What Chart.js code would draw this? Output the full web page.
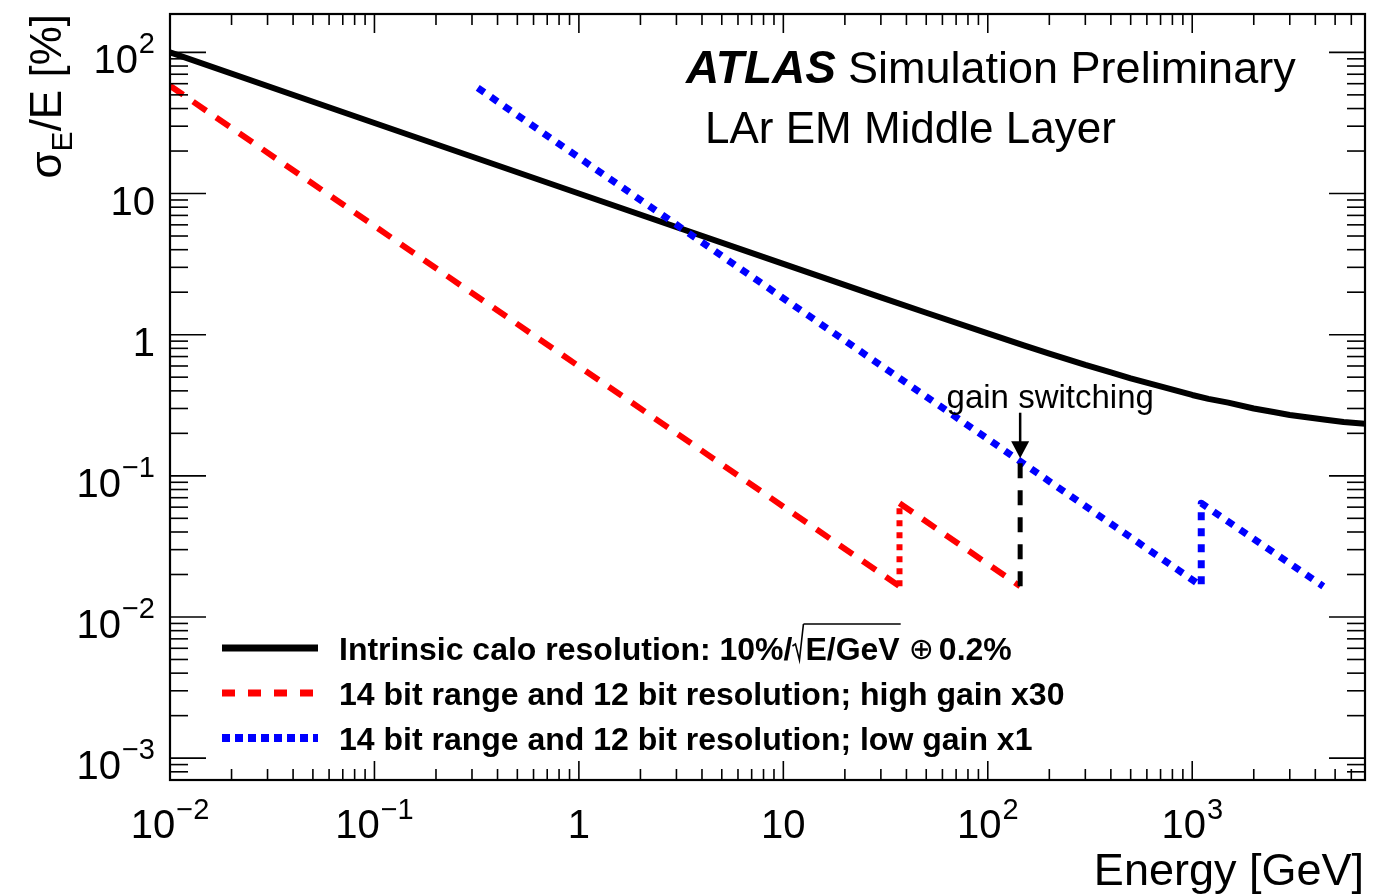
<!DOCTYPE html>
<html lang="en">
<head>
  <meta charset="UTF-8">
  <title>LAr EM Middle Layer - energy resolution</title>
  <script src="https://cdn.jsdelivr.net/npm/chart.js"></script>
  <style>
    html, body {
      margin: 0;
      padding: 0;
      background: #fff;
    }
    #box {
      width: 1389px;
      height: 895px;
      position: relative;
    }
  </style>
</head>
<body>
  <div id="box">
    <canvas id="resChart"></canvas>
  </div>

  <script>
    // values (E in GeV, sigma_E/E in %)
    const energyIntrinsic = [0.01, 0.1, 1, 10, 30, 50, 100, 150, 200, 300, 400, 500, 700, 1000, 1200, 1500, 2000, 2500, 3000, 4500, 5500, 7000];
    const sigmaIntrinsic  = [100, 31.6, 10, 3.17, 1.84, 1.43, 1.02, 0.84, 0.735, 0.61, 0.54, 0.49, 0.43, 0.374, 0.351, 0.33, 0.30, 0.283, 0.27, 0.25, 0.241, 0.234];

    const energyHigh = [0.01, 37, 37, 144];
    const sigmaHigh  = [58, 0.0165, 0.064, 0.0165];

    const energyLow = [0.32, 1107, 1107, 4375];
    const sigmaLow  = [56, 0.0166, 0.064, 0.0165];

    const switchEnergy = [144, 144];
    const switchSigma  = [0.0165, 0.126];

    const xDecades = [-2, -1, 0, 1, 2, 3];
    const yDecades = [-3, -2, -1, 0, 1, 2];

    const labelIntrinsic = "Intrinsic calo resolution: 10%/";
    const labelHigh = "14 bit range and 12 bit resolution; high gain x30";
    const labelLow = "14 bit range and 12 bit resolution; low gain x1";

    const FONT = '"Liberation Sans", Helvetica, Arial, sans-serif';

    function pts(xs, ys) {
      return xs.map((v, i) => ({ x: v, y: ys[i] }));
    }
    function isVertical(c) {
      return c.p0.parsed.x === c.p1.parsed.x;
    }

    function line(ctx, x1, y1, x2, y2) {
      ctx.beginPath();
      ctx.moveTo(x1, y1);
      ctx.lineTo(x2, y2);
      ctx.stroke();
    }

    // "10" with raised exponent, like ROOT draws it
    function powLabel(ctx, e, px, by, align, raise) {
      let main = '10', exp = '';
      if (e === 0) main = '1';
      else if (e !== 1) exp = e < 0 ? '\u2212' + (-e) : String(e);
      ctx.font = '40px ' + FONT;
      const wm = ctx.measureText(main).width;
      ctx.font = '29px ' + FONT;
      const we = exp ? ctx.measureText(exp).width + 1 : 0;
      const total = wm + we;
      let x0 = align === 'center' ? px - total / 2 : px - total;
      ctx.textAlign = 'left';
      ctx.textBaseline = 'alphabetic';
      ctx.font = '40px ' + FONT;
      ctx.fillText(main, x0, by);
      if (exp) {
        ctx.font = '29px ' + FONT;
        ctx.fillText(exp, x0 + wm + 1, by - raise);
      }
    }

    const atlasDecor = {
      id: 'atlasDecor',
      afterDraw(chart) {
        const { ctx, chartArea: a, scales: { x, y } } = chart;
        ctx.save();
        ctx.strokeStyle = '#000';
        ctx.fillStyle = '#000';

        // ticks inside the frame, on all four sides
        ctx.lineWidth = 1.6;
        for (let e = -4; e <= 2; e++) {
          for (let k = 1; k <= 9; k++) {
            const v = k * Math.pow(10, e);
            if (v < y.min * 0.999 || v > y.max) continue;
            const py = y.getPixelForValue(v);
            const len = k === 1 ? 36 : 18;
            line(ctx, a.left, py, a.left + len, py);
            line(ctx, a.right, py, a.right - len, py);
          }
        }
        for (let e = -2; e <= 3; e++) {
          for (let k = 1; k <= 9; k++) {
            const v = k * Math.pow(10, e);
            if (v < x.min || v > x.max * 1.001) continue;
            const px = x.getPixelForValue(v);
            const len = k === 1 ? 19 : 11;
            line(ctx, px, a.bottom, px, a.bottom - len);
            line(ctx, px, a.top, px, a.top + len);
          }
        }

        // frame
        ctx.lineWidth = 2.2;
        ctx.strokeRect(a.left, a.top, a.right - a.left, a.bottom - a.top);

        // tick labels
        yDecades.forEach(e => {
          const py = y.getPixelForValue(Math.pow(10, e));
          powLabel(ctx, e, a.left - 15, py + 21, 'right', 20);
        });
        xDecades.forEach(e => {
          const px = x.getPixelForValue(Math.pow(10, e));
          powLabel(ctx, e, px, a.bottom + 58, 'center', 19);
        });

        // axis titles
        ctx.textAlign = 'right';
        ctx.textBaseline = 'alphabetic';
        ctx.font = '45px ' + FONT;
        ctx.fillText('Energy [GeV]', a.right - 1, 885);

        ctx.save();
        ctx.font = '44px ' + FONT;
        const wSig = ctx.measureText('\u03c3').width;
        const wRest = ctx.measureText('/E [%]').width;
        ctx.font = '30px ' + FONT;
        const wSub = ctx.measureText('E').width;
        const totalT = wSig + wSub + wRest;
        ctx.translate(61, a.top + totalT);
        ctx.rotate(-Math.PI / 2);
        ctx.textAlign = 'left';
        ctx.font = '44px ' + FONT;
        ctx.fillText('\u03c3', 0, 0);
        ctx.font = '30px ' + FONT;
        ctx.fillText('E', wSig, 11);
        ctx.font = '44px ' + FONT;
        ctx.fillText('/E [%]', wSig + wSub, 0);
        ctx.restore();

        // ATLAS label
        ctx.textAlign = 'left';
        ctx.font = 'italic bold 46px ' + FONT;
        ctx.fillText('ATLAS', 686, 83);
        ctx.font = '45px ' + FONT;
        ctx.fillText('Simulation Preliminary', 848, 83);
        ctx.font = '44px ' + FONT;
        ctx.fillText('LAr EM Middle Layer', 705, 143);

        // gain switching annotation
        const ax = x.getPixelForValue(switchEnergy[0]);
        const aTop = y.getPixelForValue(0.28);
        const aTip = y.getPixelForValue(0.133);
        ctx.lineWidth = 2.5;
        line(ctx, ax, aTop, ax, aTip - 14);
        ctx.beginPath();
        ctx.moveTo(ax - 9, aTip - 17);
        ctx.lineTo(ax + 9, aTip - 17);
        ctx.lineTo(ax, aTip);
        ctx.closePath();
        ctx.fill();
        ctx.font = '33px ' + FONT;
        ctx.textAlign = 'center';
        ctx.fillText('gain switching', x.getPixelForValue(202), y.getPixelForValue(0.30));

        // legend
        const ds = chart.data.datasets;
        const rows = [648, 693, 738];
        [0, 1, 2].forEach(i => {
          const d = ds[i];
          const ly = rows[i];
          ctx.strokeStyle = d.borderColor;
          ctx.lineWidth = d.borderWidth + 1;
          ctx.lineCap = 'butt';
          ctx.setLineDash(d.legendDash);
          line(ctx, 222, ly, 318, ly);
          ctx.setLineDash([]);
        });
        ctx.fillStyle = '#000';
        ctx.strokeStyle = '#000';
        ctx.textAlign = 'left';
        ctx.font = 'bold 32px ' + FONT;
        ctx.fillText(labelHigh, 339, rows[1] + 12);
        ctx.fillText(labelLow, 339, rows[2] + 12);

        // first entry: 10%/sqrt(E/GeV) (+) 0.2%
        let tx = 339;
        const base = rows[0] + 12;
        ctx.fillText(labelIntrinsic, tx, base);
        tx += ctx.measureText(labelIntrinsic).width;
        const rTop = base - 36;
        ctx.lineWidth = 1.6;
        ctx.beginPath();
        ctx.moveTo(tx, base - 14);
        ctx.lineTo(tx + 3, base - 16);
        ctx.lineTo(tx + 7, base);
        ctx.lineTo(tx + 11, rTop);
        ctx.stroke();
        tx += 13;
        const under = 'E/GeV';
        const wu = ctx.measureText(under).width;
        ctx.fillText(under, tx, base);
        line(ctx, tx - 2, rTop, tx + wu + 1, rTop);
        tx += wu + 9;
        ctx.font = '30px "DejaVu Sans", ' + FONT;
        ctx.fillText('\u2295', tx, base - 1);
        tx += ctx.measureText('\u2295').width + 5;
        ctx.font = 'bold 32px ' + FONT;
        ctx.fillText('0.2%', tx, base);

        ctx.restore();
      }
    };

    new Chart(document.getElementById('resChart'), {
      type: 'line',
      data: {
        datasets: [
          {
            label: 'Intrinsic calo resolution',
            data: pts(energyIntrinsic, sigmaIntrinsic),
            borderColor: '#000000',
            borderWidth: 6,
            legendDash: [],
            order: 3
          },
          {
            label: labelHigh,
            data: pts(energyHigh, sigmaHigh),
            borderColor: '#ff0000',
            borderWidth: 6,
            legendDash: [13, 13],
            segment: {
              borderDash: c => isVertical(c) ? [6, 6] : [16, 12]
            },
            order: 2
          },
          {
            label: labelLow,
            data: pts(energyLow, sigmaLow),
            borderColor: '#0000ff',
            borderWidth: 7,
            legendDash: [8, 5],
            borderDash: [8, 8],
            order: 1
          },
          {
            label: 'gain switching',
            data: pts(switchEnergy, switchSigma),
            borderColor: '#000000',
            borderWidth: 5,
            borderDash: [15, 12],
            legendDash: [15, 12],
            order: 0
          }
        ]
      },
      options: {
        responsive: true,
        maintainAspectRatio: false,
        animation: false,
        parsing: true,
        elements: {
          point: { radius: 0, hoverRadius: 0 },
          line: { tension: 0, fill: false, borderCapStyle: 'butt', borderJoinStyle: 'round' }
        },
        layout: {
          padding: { left: 162, top: 14, right: 24, bottom: 107 }
        },
        plugins: {
          legend: { display: false },
          tooltip: { enabled: false }
        },
        scales: {
          x: {
            type: 'logarithmic',
            min: 0.01,
            max: 7000,
            grid: { display: false },
            border: { display: false },
            ticks: { display: false }
          },
          y: {
            type: 'logarithmic',
            min: 0.0007,
            max: 187,
            grid: { display: false },
            border: { display: false },
            ticks: { display: false }
          }
        }
      },
      plugins: [atlasDecor]
    });
  </script>
</body>
</html>
